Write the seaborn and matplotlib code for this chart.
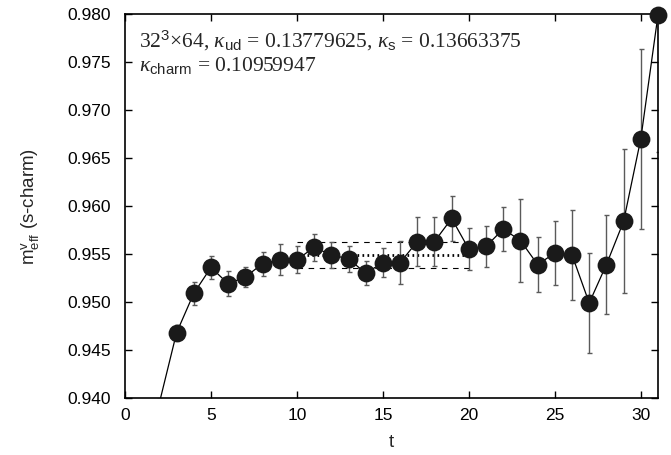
import numpy as np
import pandas as pd
import matplotlib
matplotlib.use("Agg")
import matplotlib.pyplot as plt
import seaborn as sns

# ---- data ----
t_vals = [2, 3, 4, 5, 6, 7, 8, 9, 10, 11, 12, 13, 14, 15, 16, 17, 18, 19, 20,
          21, 22, 23, 24, 25, 26, 27, 28, 29, 30, 31]
m_eff = [0.9395, 0.9468, 0.9509, 0.9536, 0.9519, 0.9526, 0.9540, 0.9544, 0.9544,
         0.9557, 0.9549, 0.9545, 0.9530, 0.9541, 0.9541, 0.9563, 0.9563, 0.9587,
         0.9555, 0.9558, 0.9576, 0.9564, 0.9539, 0.9551, 0.9549, 0.9499, 0.9539,
         0.9584, 0.9670, 0.9799]
m_err = [0.0004, 0.0008, 0.0012, 0.0012, 0.0013, 0.0010, 0.00125, 0.0016, 0.0014,
         0.0014, 0.00135, 0.00135, 0.00125, 0.0015, 0.00225, 0.0026, 0.0026, 0.00236,
         0.0022, 0.00214, 0.0023, 0.0043, 0.0029, 0.0033, 0.0047, 0.0052, 0.0052,
         0.0075, 0.0094, 0.0143]
fit_range = [10, 20]
fit_value = 0.95485
fit_error = 0.00135

x_ticks = [0, 5, 10, 15, 20, 25, 30]
y_ticks = [0.940, 0.945, 0.950, 0.955, 0.960, 0.965, 0.970, 0.975, 0.980]
y_ticklabels = ["0.940", "0.945", "0.950", "0.955", "0.960", "0.965", "0.970", "0.975", "0.980"]
annot_line1 = "32$^{3}$×64, $\\kappa_{\\mathsf{ud}}$ = 0.13779625, $\\kappa_{\\mathsf{s}}$ = 0.13663375"
annot_line2 = "$\\kappa_{\\mathsf{charm}}$ = 0.10959947"

df = pd.DataFrame({"t": t_vals, "m": m_eff, "err": m_err})

sns.set_theme(style="ticks")
plt.rcParams["font.family"] = ["Liberation Sans", "DejaVu Sans"]
plt.rcParams["mathtext.fontset"] = "custom"
plt.rcParams["mathtext.rm"] = "Liberation Sans"
plt.rcParams["mathtext.sf"] = "Liberation Sans"
plt.rcParams["mathtext.it"] = "Liberation Serif:italic"

fig = plt.figure(figsize=(6.71, 4.55), dpi=100)
ax = fig.add_axes([125 / 671, 1 - 398 / 455, (658 - 125) / 671, (398 - 14) / 455])

# fit band
ax.plot(fit_range, [fit_value + fit_error] * 2, color="black", lw=0.8, ls=(0, (5, 5)))
ax.plot(fit_range, [fit_value - fit_error] * 2, color="black", lw=0.8, ls=(0, (5, 5)))
ax.plot(fit_range, [fit_value] * 2, color="black", lw=2.0, ls=(0, (0.6, 1.2)))

# error bars
ax.errorbar(df["t"], df["m"], yerr=df["err"], fmt="none", ecolor="#5a5a5a",
            elinewidth=1.0, capsize=1.8, capthick=1.0, zorder=2)

# connecting line
sns.lineplot(data=df, x="t", y="m", ax=ax, color="black", lw=0.9,
             estimator=None, sort=False, zorder=3)

# markers (points inside range, drawn unclipped like gnuplot)
inside = df[(df["m"] >= 0.940) & (df["m"] <= 0.980)]
sns.scatterplot(data=inside, x="t", y="m", ax=ax, s=165, color="#1a1a1a",
                edgecolor="#1a1a1a", linewidth=0, zorder=4, clip_on=False)

ax.set_xlim(0, 31)
ax.set_ylim(0.940, 0.980)
ax.set_xticks(x_ticks)
ax.set_yticks(y_ticks)
ax.set_yticklabels(y_ticklabels)
ax.tick_params(direction="in", length=5, width=1.0, top=True, right=True,
               labelsize=12.5, colors="black")
ax.tick_params(axis="y", pad=10)
ax.tick_params(axis="x", pad=7)
for s in ax.spines.values():
    s.set_linewidth(1.2)
    s.set_color("black")

ax.set_xlabel("t", fontsize=13.5, labelpad=8)
ax.set_ylabel("m$^{\\mathrm{v}}_{\\mathrm{eff}}$ (s-charm)", fontsize=13.5, labelpad=18)

ax.text(0.026, 0.93, annot_line1, transform=ax.transAxes, fontsize=15.5,
        family=["Liberation Serif", "DejaVu Serif"], va="center", ha="left")
ax.text(0.026, 0.865, annot_line2, transform=ax.transAxes, fontsize=15.5,
        family=["Liberation Serif", "DejaVu Serif"], va="center", ha="left")

fig.savefig("out.png", dpi=100)
